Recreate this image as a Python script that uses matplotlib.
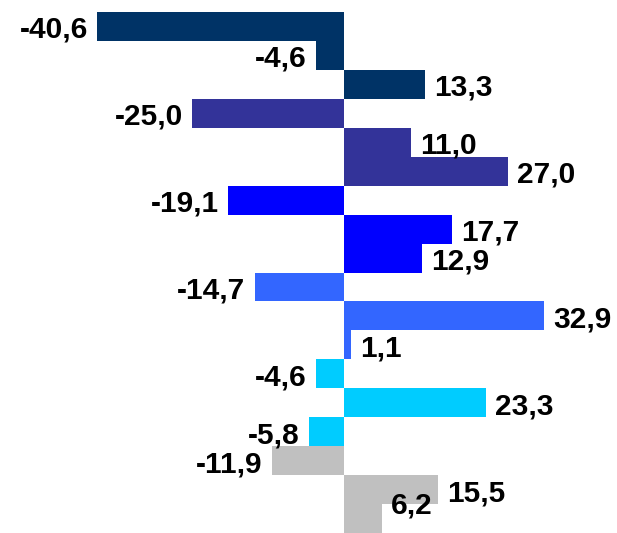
import matplotlib
matplotlib.use("Agg")
import matplotlib.pyplot as plt
from matplotlib.transforms import offset_copy

# Percentage changes, listed top to bottom, three per group
values = [-40.6, -4.6, 13.3,
          -25.0, 11.0, 27.0,
          -19.1, 17.7, 12.9,
          -14.7, 32.9, 1.1,
          -4.6, 23.3, -5.8,
          -11.9, 15.5, 6.2]
group_colors = ["#003366", "#333399", "#0000FF", "#3366FF", "#00CCFF", "#C0C0C0"]
per_group = 3

W, H, DPI = 617, 533, 100
fig = plt.figure(figsize=(W / DPI, H / DPI), dpi=DPI)
top_margin = 12 / H
ax = fig.add_axes([0, 0, 1, 1 - top_margin])

zero_px = 344
px_per_unit = 6.08
ax.set_xlim(-zero_px / px_per_unit, (W - zero_px) / px_per_unit)
n = len(values)
ax.set_ylim(n - 0.5, -0.5)
ax.axis("off")

colors = [group_colors[i // per_group] for i in range(n)]
positions = list(range(n))
ax.barh(positions, values, height=1.0, color=colors, edgecolor="none")

font = dict(family=["Liberation Sans", "DejaVu Sans"], weight="bold", size=21.5)
gap_pt = 6.5
for i, v in enumerate(values):
    text = f"{v:.1f}".replace(".", ",")
    dy = -2.5
    if i == n - 1:
        dy = 9.5  # keep the last label clear of the bottom edge
    if v < 0:
        tr = offset_copy(ax.transData, fig=fig, x=-gap_pt, y=dy, units="points")
        ax.text(v, i, text, ha="right", va="center", transform=tr, **font)
    else:
        tr = offset_copy(ax.transData, fig=fig, x=gap_pt, y=dy, units="points")
        ax.text(v, i, text, ha="left", va="center", transform=tr, **font)

fig.savefig("out.png", dpi=DPI)
